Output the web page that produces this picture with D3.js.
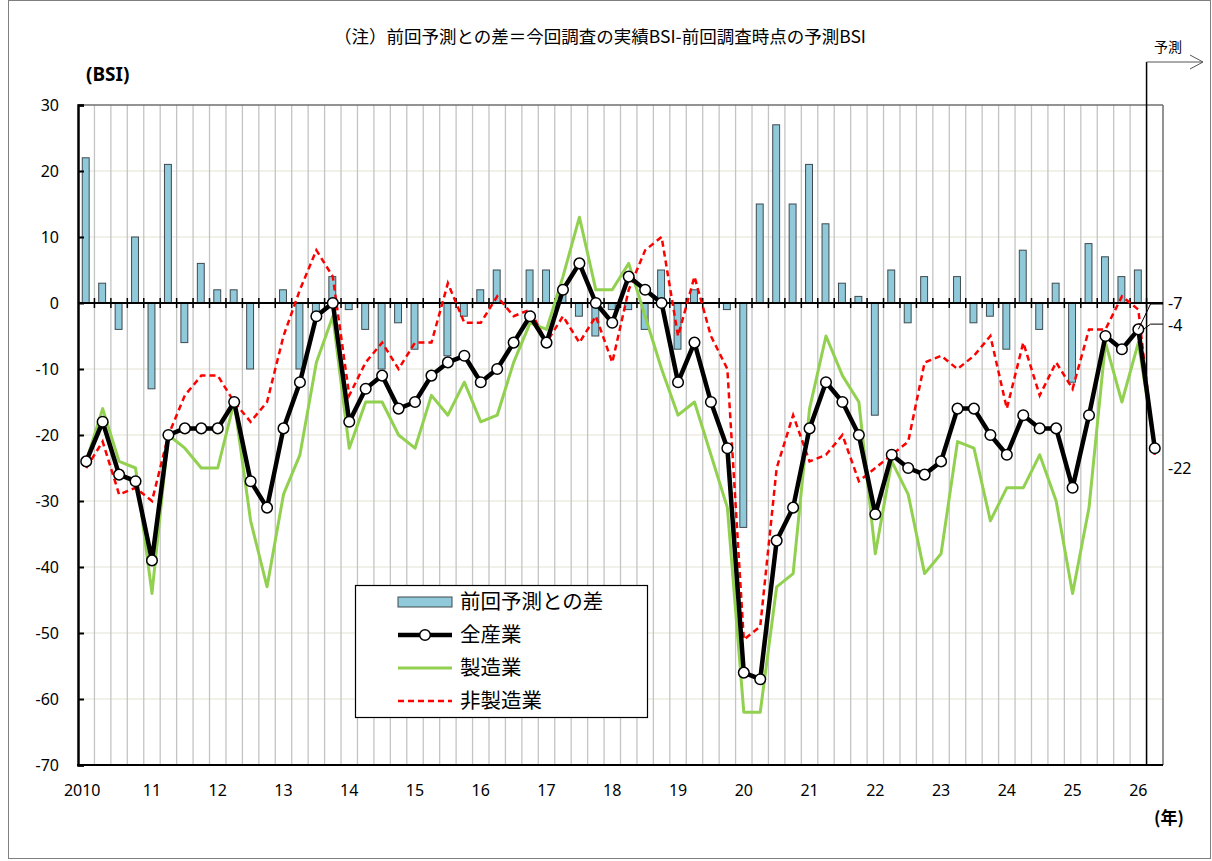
<!DOCTYPE html>
<html><head><meta charset="utf-8">
<script src="https://cdn.jsdelivr.net/npm/d3@7"></script>
<style>body{margin:0;background:#fff}svg{display:block}</style>
</head><body><svg id="c" width="1212" height="861"></svg>
<script>
// ---- data ----
const yearLabels = ["2010","11","12","13","14","15","16","17","18","19","20","21","22","23","24","25","26"];
const quarterNames = ["Q1","Q2","Q3","Q4"];
const yTicks = [30,20,10,0,-10,-20,-30,-40,-50,-60,-70];
// 前回予測との差 (last point = forecast, no bar)
const diffPrev = [22,3,-4,10, -13,21,-6,6, 2,2,-10,0, 2,-10,-2,4, -1,-4,-10,-3, -7,0,-8,-2, 2,5,0,5, 5,2,-2,-5, -1,-1,-4,5, -7,2,0,-1, -34,15,27,15, 21,12,3,1, -17,5,-3,4, 0,4,-3,-2, -7,8,-4,3, -12,9,7,4, 5,null];
// 全産業
const allInd = [-24,-18,-26,-27, -39,-20,-19,-19, -19,-15,-27,-31, -19,-12,-2,0, -18,-13,-11,-16, -15,-11,-9,-8, -12,-10,-6,-2, -6,2,6,0, -3,4,2,0, -12,-6,-15,-22, -56,-57,-36,-31, -19,-12,-15,-20, -32,-23,-25,-26, -24,-16,-16,-20, -23,-17,-19,-19, -28,-17,-5,-7, -4,-22];
// 製造業
const mfg = [-24,-16,-24,-25, -44,-20,-22,-25, -25,-15,-33,-43, -29,-23,-9,-2, -22,-15,-15,-20, -22,-14,-17,-12, -18,-17,-9,-3, -4,4,13,2, 2,6,-2,-10, -17,-15,-23,-31, -62,-62,-43,-41, -16,-5,-11,-15, -38,-24,-29,-41, -38,-21,-22,-33, -28,-28,-23,-30, -44,-31,-6,-15, -6,-22];
// 非製造業
const nonMfg = [-25,-21,-29,-28, -30,-20,-14,-11, -11,-15,-18,-15, -5,2,8,4, -14,-9,-6,-10, -6,-6,3,-3, -3,1,-2,-1, -6,-2,-6,-2, -9,2,8,10, -5,4,-5,-10, -51,-49,-25,-17, -24,-23,-20,-27, -25,-23,-21,-9, -8,-10,-8,-5, -16,-6,-14,-9, -13,-4,-4,1, -1,-23];
const endLabels = ["-7", "-4", "-22"];
const legendItems = ["前回予測との差","全産業","製造業","非製造業"];
const titleText = "（注）前回予測との差＝今回調査の実績BSI-前回調査時点の予測BSI";

// ---- categories ----
const quarters = [];
yearLabels.forEach(yl => quarterNames.forEach(q => quarters.push(yl + q)));
quarters.length = allInd.length;

// ---- layout ----
const svg = d3.select("#c");
const L = 78, R = 1163, T = 105, B = 765;
const x = d3.scaleBand().domain(quarters).range([L, R]).padding(0);
const bw = x.bandwidth();
const cx = (d, i) => x(quarters[i]) + bw / 2;
const y = d3.scaleLinear().domain([-70, 30]).range([B, T]);
const JP = "'Noto Sans CJK JP', 'Noto Sans', sans-serif";
const NUM = "'Noto Sans', 'DejaVu Sans', sans-serif";

// outer frame
svg.append("rect").attr("x", 8.5).attr("y", 0.5).attr("width", 1202).attr("height", 858)
  .attr("fill", "none").attr("stroke", "#7f7f7f").attr("stroke-width", 1);

// horizontal gridlines
svg.append("g").selectAll("line").data(yTicks.filter(t => t !== 0 && t !== -70 && t !== 30)).join("line")
  .attr("x1", L).attr("x2", R).attr("y1", d => y(d)).attr("y2", d => y(d))
  .attr("stroke", "#ecece2").attr("stroke-width", 1.5);

// vertical gridlines at band boundaries
svg.append("g").selectAll("line").data(quarters.slice(1)).join("line")
  .attr("x1", d => x(d)).attr("x2", d => x(d)).attr("y1", T).attr("y2", B)
  .attr("stroke", "#c4c4c4").attr("stroke-width", 1.3);

// plot frame top/right
svg.append("line").attr("x1", L).attr("x2", R).attr("y1", T).attr("y2", T).attr("stroke", "#6f6f6f").attr("stroke-width", 1.5);
svg.append("line").attr("x1", R).attr("x2", R).attr("y1", T).attr("y2", B).attr("stroke", "#6f6f6f").attr("stroke-width", 1.5);

// bars
svg.append("g").selectAll("rect").data(diffPrev.map((v, i) => ({v, i})).filter(d => d.v !== null && d.v !== 0)).join("rect")
  .attr("x", d => cx(null, d.i) - bw * 0.21 - 0.5)
  .attr("width", bw * 0.42)
  .attr("y", d => y(Math.max(0, d.v)))
  .attr("height", d => Math.abs(y(d.v) - y(0)))
  .attr("fill", "#8fc9da").attr("stroke", "#3f4a4f").attr("stroke-width", 1);

// zero axis with ticks
svg.append("line").attr("x1", L).attr("x2", R).attr("y1", y(0)).attr("y2", y(0)).attr("stroke", "#000").attr("stroke-width", 2);
svg.append("g").selectAll("line").data(quarters.slice(1)).join("line")
  .attr("x1", d => x(d)).attr("x2", d => x(d)).attr("y1", y(0) - 5).attr("y2", y(0) + 5)
  .attr("stroke", "#000").attr("stroke-width", 1.5);

// left axis
const yAxis = d3.axisRight(y).tickValues(yTicks).tickSize(6).tickFormat("");
const ga = svg.append("g").attr("transform", `translate(${L},0)`).call(yAxis);
ga.select(".domain").attr("stroke", "#000").attr("stroke-width", 2.5);
ga.selectAll(".tick line").attr("stroke", "#000").attr("stroke-width", 2);
svg.append("g").selectAll("text").data(yTicks).join("text")
  .attr("x", 59).attr("y", d => y(d)).attr("dy", "0.35em").attr("text-anchor", "end")
  .attr("font-family", NUM).attr("font-size", 16).attr("fill", "#000").text(d => d);

// bottom axis
svg.append("line").attr("x1", L - 1).attr("x2", R).attr("y1", B).attr("y2", B).attr("stroke", "#000").attr("stroke-width", 2);
svg.append("g").selectAll("text").data(yearLabels).join("text")
  .attr("x", (d, k) => x(quarters[k * 4]) + bw / 2 - (k === 0 ? 4 : 0)).attr("y", 790).attr("dy", "0.35em")
  .attr("text-anchor", "middle").attr("font-family", NUM).attr("font-size", 16).attr("fill", "#000").text(d => d);

// lines
const line = d3.line().x((d, i) => cx(d, i)).y(d => y(d));
svg.append("path").datum(mfg).attr("d", line).attr("fill", "none").attr("stroke", "#92d050").attr("stroke-width", 3).attr("stroke-linejoin", "round");
svg.append("path").datum(nonMfg).attr("d", line).attr("fill", "none").attr("stroke", "#ff0000").attr("stroke-width", 2.5).attr("stroke-dasharray", "6,4");
svg.append("path").datum(allInd).attr("d", line).attr("fill", "none").attr("stroke", "#000").attr("stroke-width", 4.5).attr("stroke-linejoin", "round");
svg.append("g").selectAll("circle").data(allInd).join("circle")
  .attr("cx", (d, i) => cx(d, i)).attr("cy", d => y(d)).attr("r", 5.3)
  .attr("fill", "#fff").attr("stroke", "#000").attr("stroke-width", 1.5);

// forecast marker
const fx = x(quarters[quarters.length - 1]);
svg.append("line").attr("x1", fx).attr("x2", fx).attr("y1", 62).attr("y2", B).attr("stroke", "#000").attr("stroke-width", 1.5);
svg.append("line").attr("x1", fx).attr("x2", 1203).attr("y1", 62).attr("y2", 62).attr("stroke", "#555").attr("stroke-width", 1);
svg.append("path").attr("d", "M1190,55 L1203,62 L1190,69").attr("fill", "none").attr("stroke", "#555").attr("stroke-width", 1);
svg.append("text").attr("x", 1168).attr("y", 47).attr("dy", "0.35em").attr("text-anchor", "middle")
  .attr("font-family", JP).attr("font-size", 14).text("予測");

// end labels with leader lines
const labY = [y(0) + 1, y(-3.2), y(-25)];
svg.append("path").attr("d", `M${cx(null, 64)},${y(-4)} L${fx + 4},${labY[0]} L${R},${labY[0]}`).attr("fill", "none").attr("stroke", "#000").attr("stroke-width", 1);
svg.append("path").attr("d", `M${cx(null, 64) + 5},${y(-4)} L${fx + 4},${labY[1]} L${R},${labY[1]}`).attr("fill", "none").attr("stroke", "#000").attr("stroke-width", 1);
svg.append("g").selectAll("text").data(endLabels).join("text")
  .attr("x", 1168).attr("y", (d, i) => labY[i] + (i === 0 ? -1 : i === 1 ? 1 : 0))
  .attr("dy", "0.35em").attr("font-family", NUM).attr("font-size", 16).text(d => d);

// title and axis captions
svg.append("text").attr("x", 600).attr("y", 37).attr("dy", "0.35em").attr("text-anchor", "middle")
  .attr("font-family", JP).attr("font-size", 17.5).text(titleText);
svg.append("text").attr("x", 86).attr("y", 74).attr("dy", "0.35em")
  .attr("font-family", NUM).attr("font-weight", "bold").attr("font-size", 19).text("(BSI)");
svg.append("text").attr("x", 1154).attr("y", 818).attr("dy", "0.35em")
  .attr("font-family", JP).attr("font-weight", "bold").attr("font-size", 17).text("(年)");

// legend
const lg = svg.append("g");
lg.append("rect").attr("x", 355.5).attr("y", 585.5).attr("width", 292).attr("height", 132)
  .attr("fill", "#fff").attr("stroke", "#000").attr("stroke-width", 1.2);
const rowsY = [602, 635, 668, 701];
lg.append("rect").attr("x", 398).attr("y", rowsY[0] - 5).attr("width", 54).attr("height", 10)
  .attr("fill", "#8fc9da").attr("stroke", "#3f4a4f").attr("stroke-width", 1);
lg.append("line").attr("x1", 398).attr("x2", 452).attr("y1", rowsY[1]).attr("y2", rowsY[1]).attr("stroke", "#000").attr("stroke-width", 4.5);
lg.append("circle").attr("cx", 425).attr("cy", rowsY[1]).attr("r", 5.3).attr("fill", "#fff").attr("stroke", "#000").attr("stroke-width", 1.5);
lg.append("line").attr("x1", 398).attr("x2", 452).attr("y1", rowsY[2]).attr("y2", rowsY[2]).attr("stroke", "#92d050").attr("stroke-width", 3);
lg.append("line").attr("x1", 398).attr("x2", 452).attr("y1", rowsY[3]).attr("y2", rowsY[3]).attr("stroke", "#ff0000").attr("stroke-width", 2.5).attr("stroke-dasharray", "6,4");
lg.selectAll("text").data(legendItems).join("text")
  .attr("x", 460).attr("y", (d, i) => rowsY[i]).attr("dy", "0.35em")
  .attr("font-family", JP).attr("font-size", 20.5).text(d => d);
</script>
</body></html>
